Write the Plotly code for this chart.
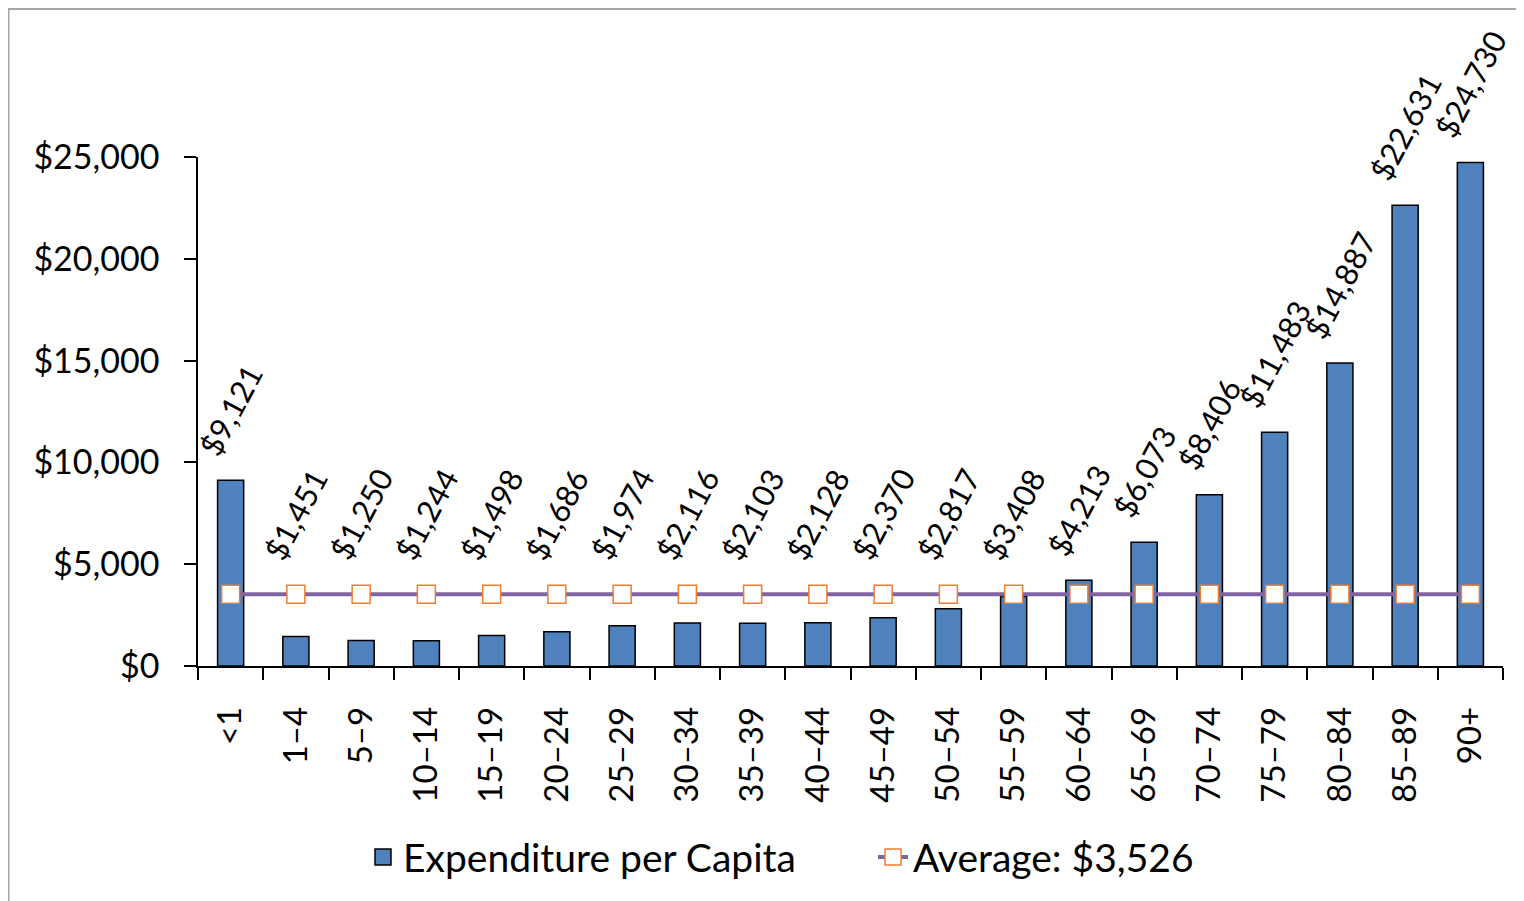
import plotly.graph_objects as go

categories = ["<1", "1–4", "5–9", "10–14", "15–19", "20–24", "25–29", "30–34", "35–39",
              "40–44", "45–49", "50–54", "55–59", "60–64", "65–69", "70–74", "75–79",
              "80–84", "85–89", "90+"]
expenditure = [9121, 1451, 1250, 1244, 1498, 1686, 1974, 2116, 2103, 2128, 2370, 2817,
               3408, 4213, 6073, 8406, 11483, 14887, 22631, 24730]
average_value = 3526
average = [average_value] * len(categories)
y_ticks = [0, 5000, 10000, 15000, 20000, 25000]

FONT = "Lato"
W, H = 1516, 893
L, R, T, B = 190, 21, 149, 233
pw, ph = W - L - R, H - T - B

BAR_COLOR = "#4F81BD"
fig = go.Figure()
fig.add_trace(go.Bar(
    x=categories, y=expenditure, name="Expenditure per Capita", showlegend=False,
    marker=dict(color=BAR_COLOR, line=dict(color="#000000", width=1.5)),
))
# legend entry for the bars (larger square icon)
fig.add_trace(go.Scatter(
    x=[None], y=[None], name="Expenditure per Capita", mode="markers",
    marker=dict(symbol="square", size=16, color=BAR_COLOR, line=dict(color="black", width=1.5)),
))
fig.add_trace(go.Scatter(
    x=categories, y=average, name=f"Average: ${average_value:,}",
    mode="lines+markers",
    line=dict(color="#8064A2", width=4),
    marker=dict(symbol="square", size=18, color="white",
                line=dict(color="#ED7D31", width=1.5)),
))

label_floor = 4000
for c, v in zip(categories, expenditure):
    fig.add_annotation(
        x=c, y=max(v, label_floor), text=f"${v:,}", showarrow=False, textangle=-62,
        xanchor="center", yanchor="bottom", yshift=16,
        font=dict(family=FONT, size=31, color="black"),
    )

# outer chart border
fig.add_shape(type="rect", xref="paper", yref="paper",
              x0=(0.5 - L) / pw, x1=(W + 20 - L) / pw,
              y0=(ph + T - (H + 20)) / ph, y1=(ph + T - 0.5) / ph,
              line=dict(color="#A6A6A6", width=2), fillcolor="rgba(0,0,0,0)", layer="below")

fig.update_layout(
    width=W, height=H,
    margin=dict(l=L, r=R, t=T, b=B),
    paper_bgcolor="white", plot_bgcolor="white",
    bargap=0.6,
    font=dict(family=FONT, size=32, color="black"),
    showlegend=True,
    legend=dict(orientation="h", x=(355 - L) / pw, xanchor="left",
                y=(T + ph - 852) / ph, yanchor="middle",
                font=dict(family=FONT, size=39, color="black"),
                entrywidth=465, entrywidthmode="pixels"),
)
fig.update_xaxes(
    type="category", range=[-0.5, len(categories) - 0.5], tickangle=-90,
    showline=True, linecolor="black", linewidth=1.5,
    ticks="outside", ticklen=12, tickwidth=1.5, tickcolor="black", tickson="boundaries",
    showgrid=False, tickfont=dict(family=FONT, size=33), ticklabelstandoff=26,
)
fig.update_yaxes(
    range=[0, 25000], tickvals=y_ticks, tickformat="$,", showline=True,
    linecolor="black", linewidth=1.5, ticks="outside", ticklen=12, tickwidth=1.5,
    tickcolor="black", showgrid=False, zeroline=False, ticklabelstandoff=18,
    tickfont=dict(family=FONT, size=34),
)

fig.write_html("out.html")
